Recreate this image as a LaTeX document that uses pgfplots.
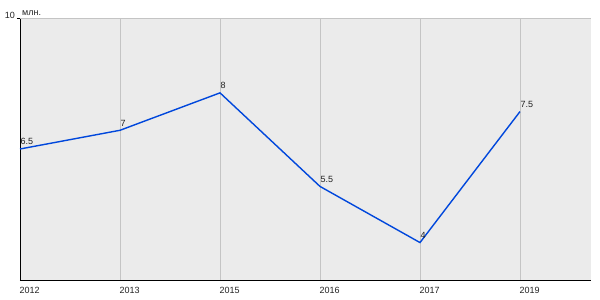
\documentclass[border=0pt]{standalone}
\usepackage{pgfplots}
\pgfplotsset{compat=1.18}
\usepackage{fontspec}
\setmainfont{Liberation Sans}
\definecolor{bg}{HTML}{EBEBEB}
\definecolor{gridc}{HTML}{C4C4C4}
\definecolor{linec}{HTML}{0047DC}
\definecolor{txt}{HTML}{222222}
\begin{document}
\begin{tikzpicture}
\begin{axis}[
  at={(0pt,0pt)}, anchor=south west,
  scale only axis, width=571pt, height=262pt,
  xmin=0, xmax=5.71, ymin=3, ymax=10,
  axis x line=bottom, axis y line=left,
  axis line style={-, black, line width=0.9pt},
  axis background/.style={fill=bg},
  xtick={0,1,2,3,4,5},
  xticklabels={2012,2013,2015,2016,2017,2019},
  xmajorgrids, grid style={gridc, line width=0.8pt},
  x tick style={draw=none},
  xticklabel style={anchor=north west, inner sep=0pt, yshift=-4.5pt, xshift=-0.5pt},
  ytick={10}, yticklabels={10},
  y tick style={black, line width=0.8pt},
  major tick length=3pt, tick align=outside,
  yticklabel style={anchor=south east, inner sep=0pt, xshift=-2pt, yshift=-1pt},
  ticklabel style={font=\fontsize{9}{10}\selectfont, text=txt},
  clip=false,
  nodes near coords,
  point meta=explicit symbolic,
  every node near coord/.style={anchor=south west, inner sep=0pt, yshift=3.5pt, font=\fontsize{9}{10}\selectfont, text=txt},
]
\addplot[linec, line width=1.4pt, mark=none] coordinates {
  (0,6.5) [6.5]
  (1,7) [7]
  (2,8) [8]
  (3,5.5) [5.5]
  (4,4) [4]
  (5,7.5) [7.5]
};
\draw[gridc, line width=0.8pt] (rel axis cs:0,1) -- (rel axis cs:1,1);
\node[anchor=south west, inner sep=0pt, font=\fontsize{9}{10}\selectfont, text=txt] at ([xshift=2pt,yshift=2pt]rel axis cs:0,1) {млн.};
\end{axis}
\pgfresetboundingbox
\path[use as bounding box] (-20pt,-20pt) rectangle (580pt,280pt);
\end{tikzpicture}
\end{document}
